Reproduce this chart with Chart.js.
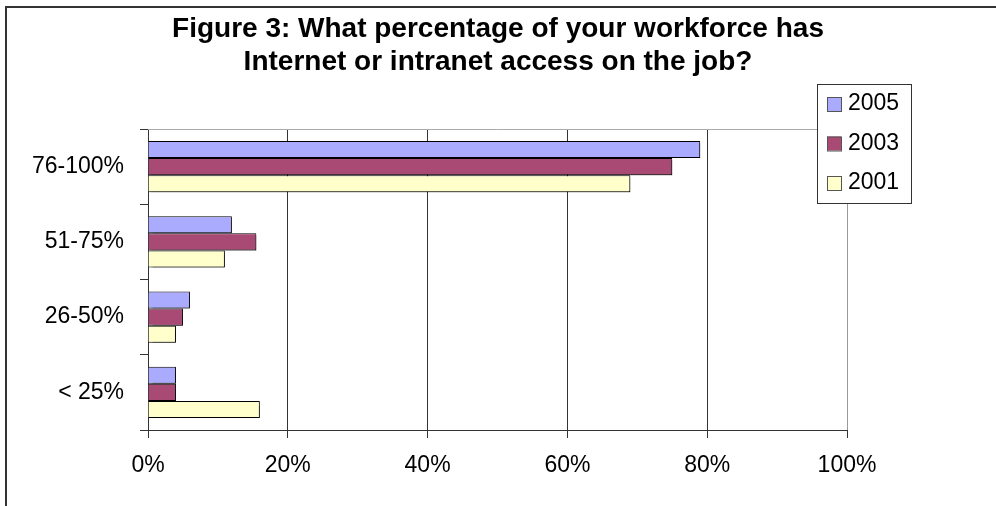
<!DOCTYPE html>
<html>
<head>
<meta charset="utf-8">
<script src="https://cdn.jsdelivr.net/npm/chart.js@4.4.1/dist/chart.umd.min.js"></script>
<style>
  html, body { margin: 0; padding: 0; background: #fff; }
  #wrap { position: relative; width: 996px; height: 506px; }
</style>
</head>
<body>
<div id="wrap"><canvas id="graph"></canvas></div>
<script>
// -------------------------
// DATA
// -------------------------
const categories = ["76-100%", "51-75%", "26-50%", "< 25%"];
const seriesNames = ["2005", "2003", "2001"];
const values2005 = [79, 12, 6, 4];
const values2003 = [75, 15.5, 5, 4];
const values2001 = [69, 11, 4, 16];
const xTicks = [0, 20, 40, 60, 80, 100];
const titleLines = [
  "Figure 3: What percentage of your workforce has",
  "Internet or intranet access on the job?"
];

const FONT = "'Liberation Sans', Arial, sans-serif";
const colors = ["#AAAAFF", "#A94A74", "#FFFFCC"];

// -------------------------
// PLUGINS
// -------------------------
const framePlugin = {
  id: "frame",
  beforeDraw(chart) {
    const ctx = chart.ctx;
    ctx.save();
    ctx.fillStyle = "#fff";
    ctx.fillRect(0, 0, chart.width, chart.height);
    ctx.fillStyle = "#333";
    ctx.fillRect(5, 6, 2, chart.height - 6);
    ctx.fillRect(5, 6, chart.width - 5, 2);
    ctx.restore();
  },
  beforeDatasetsDraw(chart) {
    const ctx = chart.ctx;
    const a = chart.chartArea;
    // plot area top border
    ctx.save();
    ctx.strokeStyle = "#aaa";
    ctx.lineWidth = 1;
    ctx.beginPath();
    ctx.moveTo(a.left, Math.round(a.top) + 0.5);
    ctx.lineTo(a.right, Math.round(a.top) + 0.5);
    ctx.stroke();
    ctx.restore();
    // bar shadow
    ctx.save();
    ctx.shadowColor = "rgba(0,0,0,0.35)";
    ctx.shadowOffsetX = 2;
    ctx.shadowOffsetY = 2;
    ctx.shadowBlur = 1;
  },
  afterDatasetsDraw(chart) {
    chart.ctx.restore();
  },
  afterDraw(chart) {
    // legend box
    const ctx = chart.ctx;
    const bx = 817, by = 84, bw = 94, bh = 119;
    ctx.save();
    ctx.fillStyle = "#fff";
    ctx.fillRect(bx, by, bw, bh);
    ctx.strokeStyle = "#333";
    ctx.lineWidth = 1;
    ctx.strokeRect(bx + 0.5, by + 0.5, bw, bh);
    ctx.font = "23px " + FONT;
    ctx.textBaseline = "middle";
    ctx.textAlign = "left";
    chart.data.datasets.forEach((ds, i) => {
      const cy = 104 + i * 39.5;
      ctx.fillStyle = ds.backgroundColor;
      ctx.fillRect(827, cy - 7, 14, 14);
      ctx.strokeStyle = "#555";
      ctx.strokeRect(827.5, cy - 6.5, 14, 14);
      ctx.fillStyle = "#000";
      ctx.fillText(ds.label, 848, cy);
    });
    ctx.restore();
  }
};

// -------------------------
// CHART
// -------------------------
function initChart() {
  const ctx = document.getElementById("graph").getContext("2d");

  new Chart(ctx, {
    type: "bar",
    data: {
      labels: categories,
      datasets: [
        { label: seriesNames[0], data: values2005, backgroundColor: colors[0] },
        { label: seriesNames[1], data: values2003, backgroundColor: colors[1] },
        { label: seriesNames[2], data: values2001, backgroundColor: colors[2] }
      ].map(d => Object.assign(d, {
        borderColor: "#000",
        borderWidth: 1,
        barPercentage: 1,
        categoryPercentage: 0.68
      }))
    },
    options: {
      indexAxis: "y",
      responsive: true,
      maintainAspectRatio: false,
      animation: false,
      layout: { padding: 0 },
      plugins: {
        legend: { display: false },
        tooltip: { enabled: false },
        title: {
          display: true,
          text: titleLines,
          color: "#000",
          font: { family: FONT, size: 28, weight: "bold", lineHeight: 1.2 },
          padding: { top: 12, bottom: 49.8 }
        }
      },
      scales: {
        x: {
          min: 0,
          max: 100,
          afterBuildTicks(scale) {
            scale.ticks = xTicks.map(v => ({ value: v }));
          },
          afterFit(scale) { scale.height = 76; },
          grid: {
            color: c => (c.tick && c.tick.value === 100 ? "#999" : "#333"),
            tickColor: "#333",
            tickLength: 8,
            lineWidth: 1
          },
          border: { color: "#333", width: 1 },
          ticks: {
            color: "#000",
            padding: 14,
            maxRotation: 0,
            font: { family: FONT, size: 23 },
            callback: v => v + "%"
          }
        },
        y: {
          afterFit(scale) { scale.width = 148; },
          grid: {
            drawOnChartArea: false,
            offset: true,
            tickColor: "#333",
            tickLength: 8
          },
          border: { color: "#333", width: 1 },
          ticks: {
            color: "#000",
            padding: 16,
            font: { family: FONT, size: 23 }
          }
        },
        // empty right-hand axis that keeps room for the legend
        yRight: {
          type: "category",
          position: "right",
          afterFit(scale) { scale.width = 149; },
          grid: { display: false },
          border: { display: false },
          ticks: { display: false }
        }
      }
    },
    plugins: [framePlugin]
  });
}

initChart();
</script>
</body>
</html>
